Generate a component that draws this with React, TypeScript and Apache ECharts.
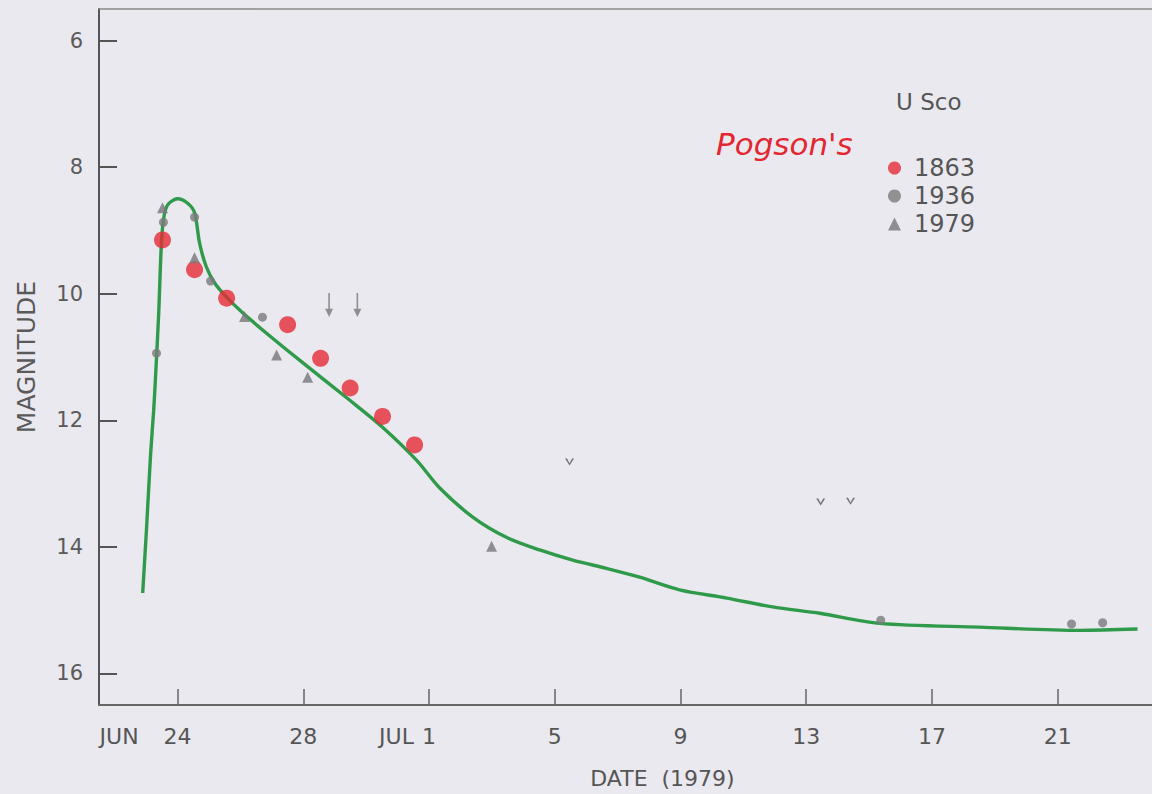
import React, { useEffect, useRef } from "react";
import * as echarts from "echarts";

// x = days after JUN 24 (1979), y = magnitude
const tickDays = [0, 4, 8, 12, 16, 20, 24, 28];
const tickLabels = ["24", "28", "1", "5", "9", "13", "17", "21"];
const tickMonths = ["JUN", "", "JUL", "", "", "", "", ""];
const magTicks = [6, 8, 10, 12, 14, 16];

// hand-drawn light curve
const curveDays = [-1.11, -0.99, -0.86, -0.76, -0.7, -0.6, -0.52, -0.45, -0.32, 0, 0.32, 0.54, 0.7, 0.91, 1.18, 1.55, 2.07, 2.82, 3.88, 5.47, 6.52, 7.6, 8.34, 9.39, 10.46, 11.52, 12.57, 13.64, 14.7, 15.97, 17.47, 18.93, 20.43, 22.34, 25.52, 28.7, 30.54];
const curveMags = [14.73, 13.73, 12.55, 11.84, 11.3, 10.3, 9.26, 8.83, 8.6, 8.5, 8.57, 8.72, 9.2, 9.57, 9.83, 10.05, 10.3, 10.62, 11.05, 11.68, 12.11, 12.63, 13.07, 13.53, 13.85, 14.05, 14.21, 14.34, 14.48, 14.68, 14.81, 14.95, 15.05, 15.21, 15.27, 15.32, 15.3];

// Pogson's 1863 observations
const days1863 = [-0.48, 0.54, 1.56, 3.5, 4.55, 5.49, 6.52, 7.54];
const mags1863 = [9.15, 9.62, 10.07, 10.49, 11.02, 11.49, 11.94, 12.39];

// 1936 observations
const days1936 = [-0.67, -0.45, 0.54, 1.05, 2.7, 22.37, 28.44, 29.43];
const mags1936 = [10.94, 8.87, 8.79, 9.8, 10.37, 15.16, 15.22, 15.2];

// 1979 observations
const days1979 = [-0.48, 0.54, 2.13, 3.15, 4.14, 9.99];
const mags1979 = [8.64, 9.43, 10.36, 10.97, 11.32, 13.99];

// upper limits
const arrowDays = [4.82, 5.72];
const arrowMags = [10.18, 10.18];
const vDays = [12.47, 20.46, 21.41];
const vMags = [12.66, 13.29, 13.28];

const FONT = "DejaVu Sans";
const GRAY = "#555";

const pairs = (xs: number[], ys: number[]) => xs.map((x, i) => [x, ys[i]]);

export default function App() {
  const ref = useRef<HTMLDivElement>(null);
  useEffect(() => {
    if (!ref.current) return;
    const chart = echarts.init(ref.current, undefined, { renderer: "svg" });
    chart.setOption({
      animation: false,
      backgroundColor: "#eae9ef",
      title: {
        text: "U Sco",
        left: 891,
        top: 85,
        textStyle: { fontFamily: FONT, fontSize: 23, fontWeight: "normal", color: GRAY },
      },
      legend: {
        data: ["1863", "1936", "1979"],
        orient: "vertical",
        left: 883,
        top: 151,
        itemWidth: 13,
        itemHeight: 13,
        itemGap: 4,
        textStyle: { fontFamily: FONT, fontSize: 24, color: GRAY, padding: [0, 0, 0, 8] },
      },
      graphic: [
        {
          type: "text",
          left: 716,
          top: 128,
          style: {
            text: "Pogson's",
            fontFamily: FONT,
            fontSize: 31,
            fontStyle: "italic",
            fill: "#e3262f",
          },
        },
      ],
      grid: { left: 99, right: 0, top: 9, bottom: 89 },
      xAxis: [
        {
          type: "value",
          min: -2.5,
          max: 31,
          splitLine: { show: false },
          axisLine: { onZero: false, lineStyle: { color: "#666", width: 2 } },
          axisTick: {
            inside: true,
            length: 16,
            customValues: tickDays,
            lineStyle: { color: "#666", width: 1.5 },
          },
          axisLabel: {
            customValues: tickDays,
            margin: 20,
            fontFamily: FONT,
            fontSize: 22,
            color: GRAY,
            formatter: (v: number) => {
              const i = tickDays.indexOf(v);
              if (i < 0) return "";
              const m = tickMonths[i];
              if (m === "JUN") return `{m|${m}}{g| }{d|${tickLabels[i]}}{p| }`;
              if (m === "JUL") return `{m|${m}}{g2| }{d|${tickLabels[i]}}{p2| }`;
              return tickLabels[i];
            },
            rich: {
              m: { fontFamily: FONT, fontSize: 22, color: GRAY },
              d: { fontFamily: FONT, fontSize: 22, color: GRAY },
              g: { width: 25 },
              p: { width: 64 },
              g2: { width: 8 },
              p2: { width: 43 },
            },
          },
          name: "DATE  (1979)",
          nameLocation: "middle",
          nameGap: 62,
          nameTextStyle: { fontFamily: FONT, fontSize: 22, color: GRAY, padding: [0, 0, 0, 74] },
        },
        {
          type: "value",
          position: "top",
          min: -2.5,
          max: 31,
          splitLine: { show: false },
          axisLine: { show: true, onZero: false, lineStyle: { color: "#888", width: 1.5 } },
          axisTick: { show: false },
          axisLabel: { show: false },
        },
      ],
      yAxis: {
        type: "value",
        inverse: true,
        min: 5.5,
        max: 16.5,
        splitLine: { show: false },
        axisLine: { show: true, onZero: false, lineStyle: { color: "#555", width: 2 } },
        axisTick: {
          show: true,
          inside: true,
          length: 18,
          customValues: magTicks,
          lineStyle: { color: "#555", width: 2 },
        },
        axisLabel: {
          customValues: magTicks,
          margin: 16,
          fontFamily: FONT,
          fontSize: 21,
          color: "#5a5a5a",
        },
        name: "MAGNITUDE",
        nameLocation: "middle",
        nameRotate: 90,
        nameGap: 60,
        nameTextStyle: { fontFamily: FONT, fontSize: 25, color: "#5a5a5a" },
      },
      series: [
        {
          name: "curve",
          type: "line",
          data: pairs(curveDays, curveMags),
          showSymbol: false,
          smooth: 0.3,
          lineStyle: { color: "#2f9a49", width: 3.4 },
          z: 2,
        },
        {
          name: "1863",
          type: "scatter",
          data: pairs(days1863, mags1863),
          symbol: "circle",
          symbolSize: 17,
          itemStyle: { color: "#e52a36" },
          z: 4,
        },
        {
          name: "1936",
          type: "scatter",
          data: pairs(days1936, mags1936),
          symbol: "circle",
          symbolSize: 9,
          itemStyle: { color: "#7b7b7d" },
          z: 5,
        },
        {
          name: "1979",
          type: "scatter",
          data: pairs(days1979, mags1979),
          symbol: "triangle",
          symbolSize: 11,
          itemStyle: { color: "#77777a" },
          z: 5,
        },
        {
          name: "limits",
          type: "scatter",
          data: pairs(arrowDays, arrowMags),
          symbol: "path://M4,0L6,0L6,17L10,17L5,26L0,17L4,17Z",
          symbolSize: [8, 24],
          itemStyle: { color: "#777" },
          z: 5,
        },
        {
          name: "v-limits",
          type: "scatter",
          data: pairs(vDays, vMags),
          symbol: "path://M0,0L2.2,0L5,6L7.8,0L10,0L5,9Z",
          symbolSize: [9, 7],
          itemStyle: { color: "#555" },
          z: 5,
        },
      ],
    });
    return () => chart.dispose();
  }, []);
  return (
    <div
      ref={ref}
      style={{ position: "fixed", left: 0, top: 0, width: 1152, height: 794 }}
    />
  );
}
